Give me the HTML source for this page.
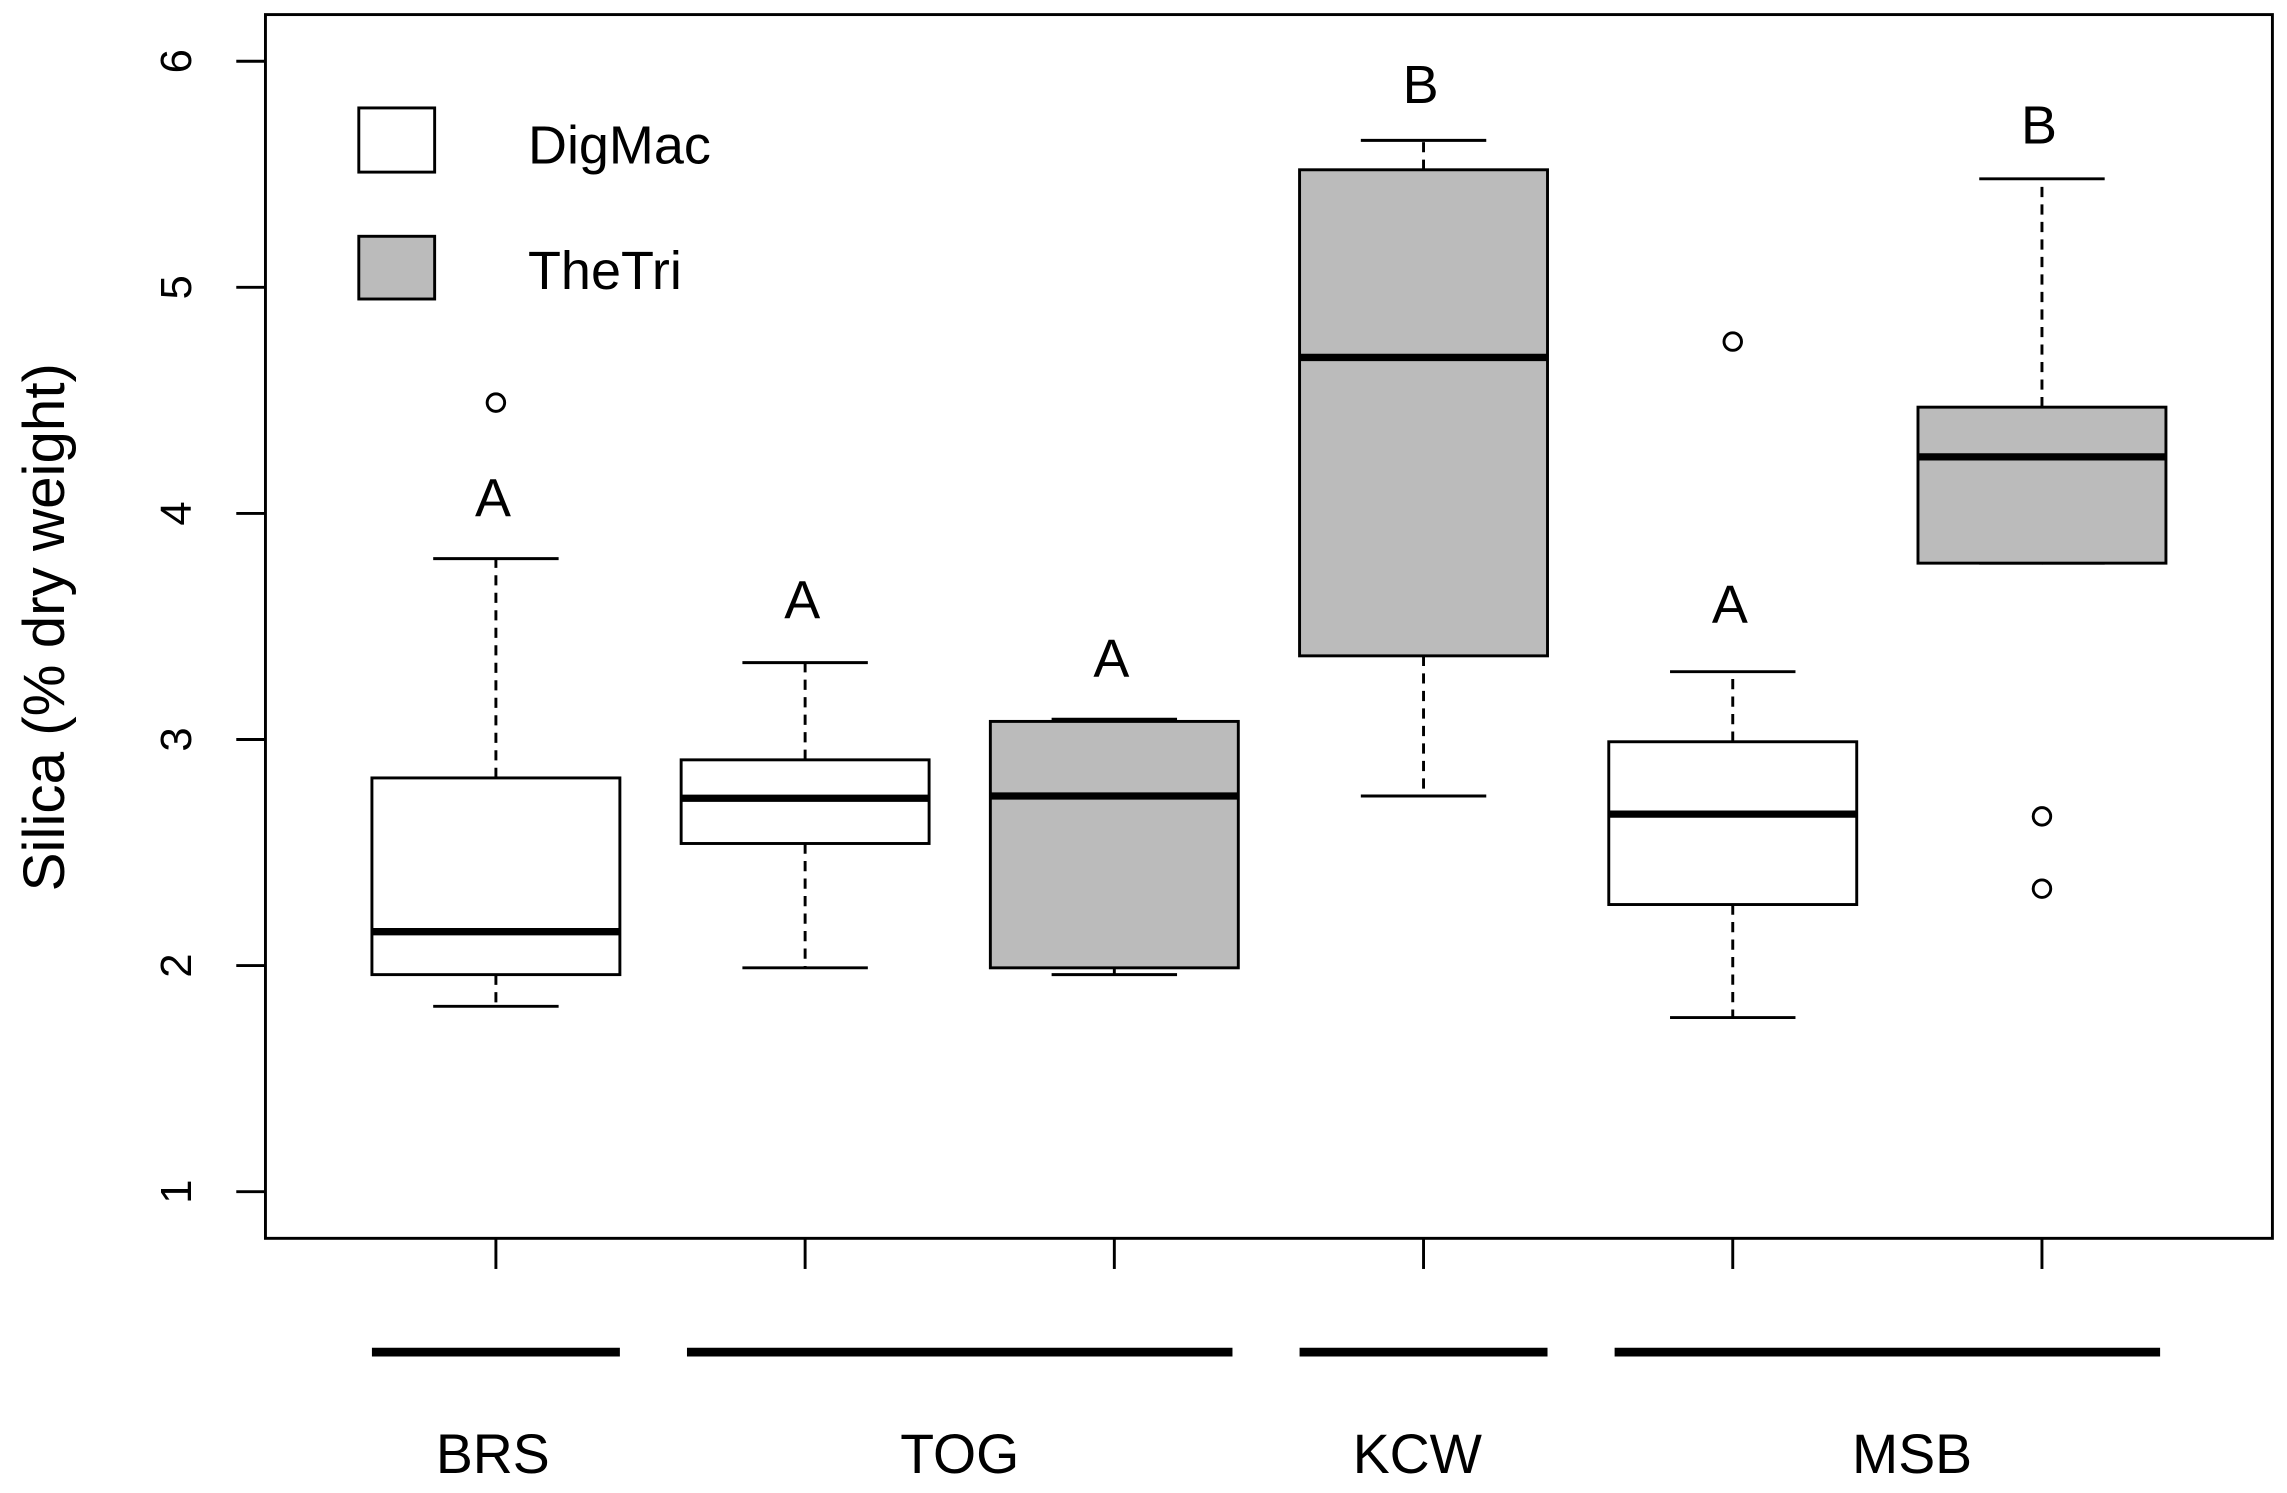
<!DOCTYPE html>
<html><head><meta charset="utf-8"><style>
html,body{margin:0;padding:0;background:#fff;}
svg{display:block;}
text{font-family:"Liberation Sans",sans-serif;fill:#000;}
</style></head><body>
<svg id="chart" width="2287" height="1493" viewBox="0 0 1568 1023.6" preserveAspectRatio="none" xmlns="http://www.w3.org/2000/svg">
<rect x="182" y="10" width="1376" height="839" fill="none" stroke="#000" stroke-width="2"/>
<text transform="translate(44,430) rotate(-90)" text-anchor="middle" font-size="40">Silica (% dry weight)</text>
<g>
<rect x="246" y="74" width="52" height="44" fill="#fff" stroke="#000" stroke-width="2"/>
<text x="362" y="112" font-size="37">DigMac</text>
<rect x="246" y="162" width="52" height="43" fill="#bbb" stroke="#000" stroke-width="2"/>
<text x="362" y="198" font-size="37">TheTri</text>
</g>
<g id="marks"></g>
</svg>
<script>
const yTicks = [1,2,3,4,5,6];
const boxPos = [1,2,3,4,5,6];
const boxFill = ["DigMac","DigMac","TheTri","TheTri","DigMac","TheTri"];
const whiskLow = [1.82,1.99,1.96,2.75,1.77,3.78];
const q1 = [1.96,2.54,1.99,3.37,2.27,3.78];
const median = [2.15,2.74,2.75,4.69,2.67,4.25];
const q3 = [2.83,2.91,3.08,5.52,2.99,4.47];
const whiskHigh = [3.80,3.34,3.09,5.65,3.30,5.48];
const outliers = [[4.49],[],[],[],[4.76],[2.66,2.34]];
const letters = ["A","A","A","B","A","B"];
const letterVal = [4.07,3.62,3.36,5.90,3.60,5.72];
const groups = ["BRS","TOG","KCW","MSB"];
const groupStart = [1,2,4,5];
const groupEnd = [1,3,4,6];
const groupLabelPos = [0.99,2.5,3.98,5.58];

const NS="http://www.w3.org/2000/svg";
const g=document.getElementById('marks');
const yS=v=>817-(v-1)*155;
const xS=p=>340+(p-1)*212;
const HW=85;
function mk(tag,attrs,txt){const e=document.createElementNS(NS,tag);for(const k in attrs)e.setAttribute(k,attrs[k]);if(txt!==undefined)e.textContent=txt;g.appendChild(e);return e;}

yTicks.forEach(t=>{
  const l=mk('line',{x1:162,x2:182,y1:yS(t),y2:yS(t),stroke:'#000','stroke-width':2});
  
  
  const tx=mk('text',{transform:`translate(131,${yS(t)}) rotate(-90)`,'text-anchor':'middle','font-size':30},String(t));
  
  
});

boxPos.forEach((p,i)=>{
  const x=xS(p);
  const tk=mk('line',{x1:x,x2:x,y1:849,y2:870,stroke:'#000','stroke-width':2});
  
  
  const wl=mk('line',{x1:x,x2:x,y1:yS(q3[i]),y2:yS(whiskHigh[i]),stroke:'#000','stroke-width':2,'stroke-dasharray':'7,5'});
  
  
  const wl2=mk('line',{x1:x,x2:x,y1:yS(q1[i]),y2:yS(whiskLow[i]),stroke:'#000','stroke-width':2,'stroke-dasharray':'7,5'});
  
  
  const c1=mk('line',{x1:x-43,x2:x+43,y1:yS(whiskHigh[i]),y2:yS(whiskHigh[i]),stroke:'#000','stroke-width':2});
  
  
  const c2=mk('line',{x1:x-43,x2:x+43,y1:yS(whiskLow[i]),y2:yS(whiskLow[i]),stroke:'#000','stroke-width':2});
  
  
  const b=mk('rect',{x:x-HW,y:yS(q3[i]),width:2*HW,height:yS(q1[i])-yS(q3[i]),fill:boxFill[i]==='DigMac'?'#fff':'#bbb',stroke:'#000','stroke-width':2});
  
  
  const m=mk('line',{x1:x-HW,x2:x+HW,y1:yS(median[i]),y2:yS(median[i]),stroke:'#000','stroke-width':5});
  
  
  outliers[i].forEach(o=>{
    const c=mk('circle',{cx:x,cy:yS(o),r:6,fill:'#fff',stroke:'#000','stroke-width':2});
    
    
  });
  const lt=mk('text',{x:x-2,y:yS(letterVal[i])+13,'text-anchor':'middle','font-size':37},letters[i]);
  
  
});

groups.forEach((gr,i)=>{
  const inset = groupStart[i]===groupEnd[i] ? HW : HW-4;
  const x1=xS(groupStart[i])-inset, x2=xS(groupEnd[i])+inset;
  const bar=mk('line',{x1:x1,x2:x2,y1:927,y2:927,stroke:'#000','stroke-width':6});
  
  
  const t=mk('text',{x:xS(groupLabelPos[i]),y:1010,'text-anchor':'middle','font-size':38},gr);
  
  
});
</script>
</body></html>
